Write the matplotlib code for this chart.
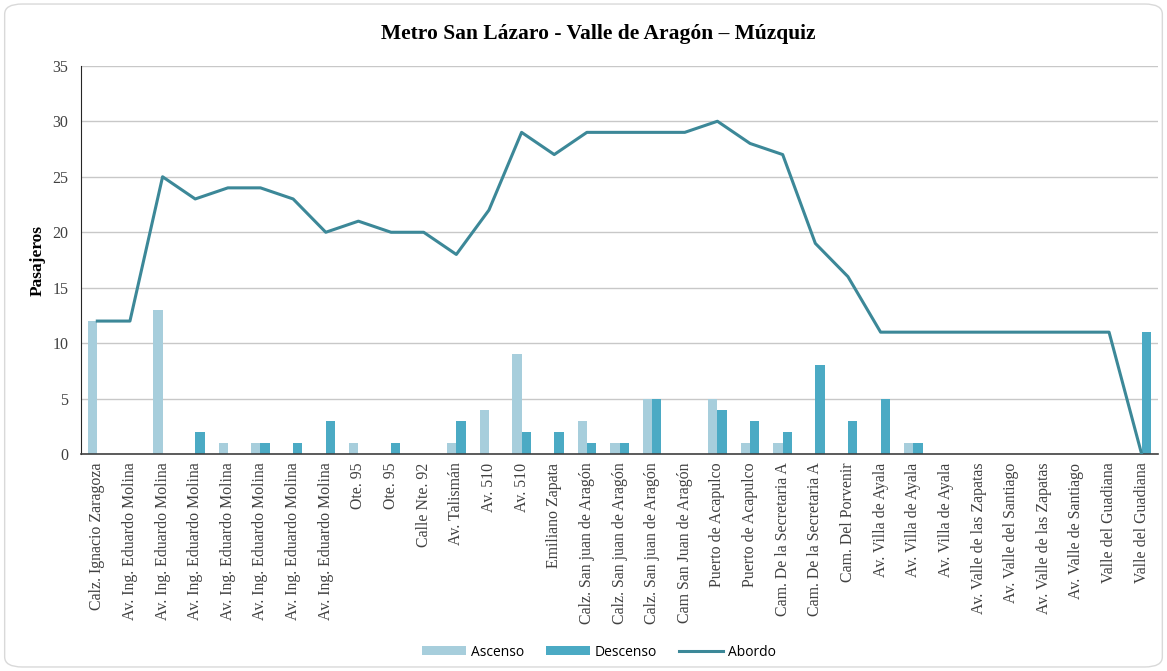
import numpy as np
import matplotlib
matplotlib.use("Agg")
from matplotlib import pyplot as plt
from matplotlib.patches import FancyBboxPatch

paradas = ["Calz. Ignacio Zaragoza",
           "Av. Ing. Eduardo Molina", "Av. Ing. Eduardo Molina", "Av. Ing. Eduardo Molina",
           "Av. Ing. Eduardo Molina", "Av. Ing. Eduardo Molina", "Av. Ing. Eduardo Molina",
           "Av. Ing. Eduardo Molina",
           "Ote. 95", "Ote. 95", "Calle Nte. 92", "Av. Talismán", "Av. 510", "Av. 510",
           "Emiliano Zapata",
           "Calz. San juan de Aragón", "Calz. San juan de Aragón", "Calz. San juan de Aragón",
           "Cam San Juan de Aragón",
           "Puerto de Acapulco", "Puerto de Acapulco",
           "Cam. De la Secretaria A", "Cam. De la Secretaria A", "Cam. Del Porvenir",
           "Av. Villa de Ayala", "Av. Villa de Ayala", "Av. Villa de Ayala",
           "Av. Valle de las Zapatas", "Av. Valle del Santiago", "Av. Valle de las Zapatas",
           "Av. Valle de Santiago", "Valle del Guadiana", "Valle del Guadiana"]

ascenso = [12, 0, 13, 0, 1, 1, 0, 0, 1, 0, 0, 1, 4, 9, 0, 3, 1, 5, 0, 5, 1, 1, 0, 0,
           0, 1, 0, 0, 0, 0, 0, 0, 0]
descenso = [0, 0, 0, 2, 0, 1, 1, 3, 0, 1, 0, 3, 0, 2, 2, 1, 1, 5, 0, 4, 3, 2, 8, 3,
            5, 1, 0, 0, 0, 0, 0, 0, 11]
abordo = [12, 12, 25, 23, 24, 24, 23, 20, 21, 20, 20, 18, 22, 29, 27, 29, 29, 29, 29, 30,
          28, 27, 19, 16, 11, 11, 11, 11, 11, 11, 11, 11, 0]

c_asc = "#a7cedc"
c_desc = "#4baac4"
c_line = "#3c8898"

fig = plt.figure(figsize=(11.67, 6.71), dpi=100)
# marco redondeado del grafico
fig.patches.append(FancyBboxPatch((0.004, 0.006), 0.992, 0.988,
                                  boxstyle="round,pad=0,rounding_size=0.015",
                                  transform=fig.transFigure, facecolor="white",
                                  edgecolor="#d9d9d9", linewidth=1.0, zorder=-1))

ax = fig.add_axes([0.0694, 0.323, 0.9229, 0.579])
x = np.arange(len(paradas))
w = 0.285
b1 = ax.bar(x - w / 2, ascenso, w, color=c_asc, label="Ascenso", zorder=2)
b2 = ax.bar(x + w / 2, descenso, w, color=c_desc, label="Descenso", zorder=2)
l1, = ax.plot(x, abordo, color=c_line, linewidth=2.2, label="Abordo", zorder=3)

ax.set_xlim(-0.5, len(paradas) - 0.5)
ax.set_ylim(0, 35)
ax.set_yticks(range(0, 36, 5))
ax.grid(axis="y", color="#c8c8c8", linewidth=1.0, zorder=0)
ax.set_axisbelow(True)

ax.set_xticks(x)
ax.set_xticklabels(paradas, rotation=90, fontfamily="Liberation Serif", fontsize=11.4)
for t in ax.get_yticklabels():
    t.set_fontfamily("Liberation Serif")
    t.set_fontsize(11.5)
ax.tick_params(axis="both", length=0, pad=6, colors="#404040")
ax.tick_params(axis="y", pad=9)

for s in ["top", "right"]:
    ax.spines[s].set_visible(False)
ax.spines["left"].set_color("#262626")
ax.spines["bottom"].set_color("#404040")
ax.spines["bottom"].set_linewidth(1.2)

ax.set_ylabel("Pasajeros", fontfamily="Liberation Serif", fontweight="bold", fontsize=12.5)
ax.yaxis.set_label_coords(-0.033, 0.5)
fig.text(0.513, 0.949, "Metro San Lázaro - Valle de Aragón – Múzquiz",
         ha="center", va="center", fontfamily="Liberation Serif", fontweight="bold",
         fontsize=15.5)

fig.legend([b1, b2, l1], ["Ascenso", "Descenso", "Abordo"],
           loc="center", bbox_to_anchor=(0.513, 0.028), ncol=3, frameon=False,
           prop={"family": "Open Sans", "size": 10}, handlelength=3.2,
           handleheight=0.6, columnspacing=1.6, handletextpad=0.3)

fig.savefig("out.png", dpi=100)
